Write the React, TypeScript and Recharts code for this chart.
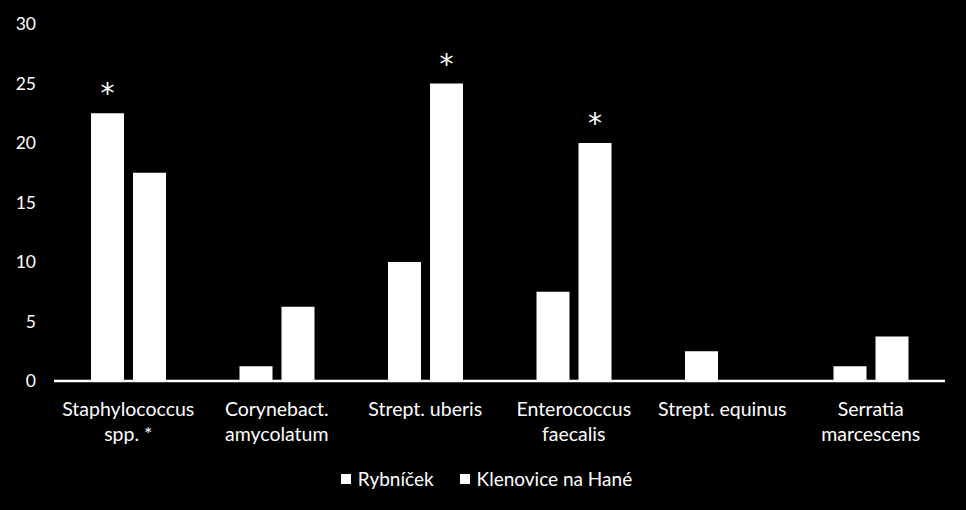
import React from 'react';
import { BarChart, Bar, XAxis, YAxis, Legend, LabelList } from 'recharts';

const categories = [
  'Staphylococcus\nspp. *',
  'Corynebact.\namycolatum',
  'Strept. uberis',
  'Enterococcus\nfaecalis',
  'Strept. equinus',
  'Serratia\nmarcescens',
];
const rybnicek = [22.5, 1.25, 10, 7.5, 2.5, 1.25];
const klenovice = [17.5, 6.25, 25, 20, 0, 3.75];
const rybnicekStar = [true, false, false, false, false, false];
const klenoviceStar = [false, false, true, true, false, false];
const yTicks = [0, 5, 10, 15, 20, 25, 30];

const data = categories.map((name, i) => ({
  name,
  rybnicek: rybnicek[i],
  klenovice: klenovice[i],
  rStar: rybnicekStar[i] ? '*' : '',
  kStar: klenoviceStar[i] ? '*' : '',
}));

const FONT = 'Lato, "Open Sans", sans-serif';

function XTick(props: any) {
  const { x, y, payload } = props;
  const lines = String(payload.value).split('\n');
  return (
    <text x={x} y={y} textAnchor="middle" fill="#fff" fontSize={19.5} fontFamily={FONT}>
      {lines.map((l, i) => (
        <tspan key={i} x={x} dy={i === 0 ? 27 : 25}>{l}</tspan>
      ))}
    </text>
  );
}

function Star(props: any) {
  const { x, y, width, value } = props;
  if (!value) return null;
  return (
    <text x={x + width / 2} y={y - 10} textAnchor="middle" fill="#fff" fontSize={28} fontFamily='"DejaVu Sans", sans-serif'>
      {value}
    </text>
  );
}

function LegendContent() {
  const items = [
    { label: 'Rybníček' },
    { label: 'Klenovice na Hané' },
  ];
  return (
    <div style={{ display: 'flex', justifyContent: 'center', gap: 26, paddingLeft: 28, fontFamily: FONT, fontSize: 19, color: '#fff' }}>
      {items.map((it) => (
        <div key={it.label} style={{ display: 'flex', alignItems: 'center', gap: 7 }}>
          <span style={{ width: 10, height: 10, background: '#fff', display: 'inline-block' }} />
          <span>{it.label}</span>
        </div>
      ))}
    </div>
  );
}

export default function App() {
  return (
    <div style={{ position: 'absolute', left: 0, top: 0, width: 966, height: 510, background: '#000' }}>
      <BarChart
        width={966}
        height={510}
        data={data}
        margin={{ top: 24, right: 21, left: 0, bottom: 14 }}
        barGap={9}
        barCategoryGap={38}
      >
        <YAxis
          domain={[0, 30]}
          ticks={yTicks}
          width={54}
          axisLine={false}
          tickLine={false}
          tickSize={0}
          tickMargin={18}
          tick={{ fill: '#fff', fontSize: 17.5, fontFamily: FONT }}
        />
        <XAxis
          dataKey="name"
          height={86}
          interval={0}
          tickLine={false}
          axisLine={{ stroke: '#fff', strokeWidth: 2.5 }}
          tick={<XTick />}
        />
        <Legend verticalAlign="bottom" height={29} content={<LegendContent />} />
        <Bar dataKey="rybnicek" name="Rybníček" fill="#fff" barSize={33} isAnimationActive={false}>
          <LabelList dataKey="rStar" content={<Star />} />
        </Bar>
        <Bar dataKey="klenovice" name="Klenovice na Hané" fill="#fff" barSize={33} isAnimationActive={false}>
          <LabelList dataKey="kStar" content={<Star />} />
        </Bar>
      </BarChart>
    </div>
  );
}
